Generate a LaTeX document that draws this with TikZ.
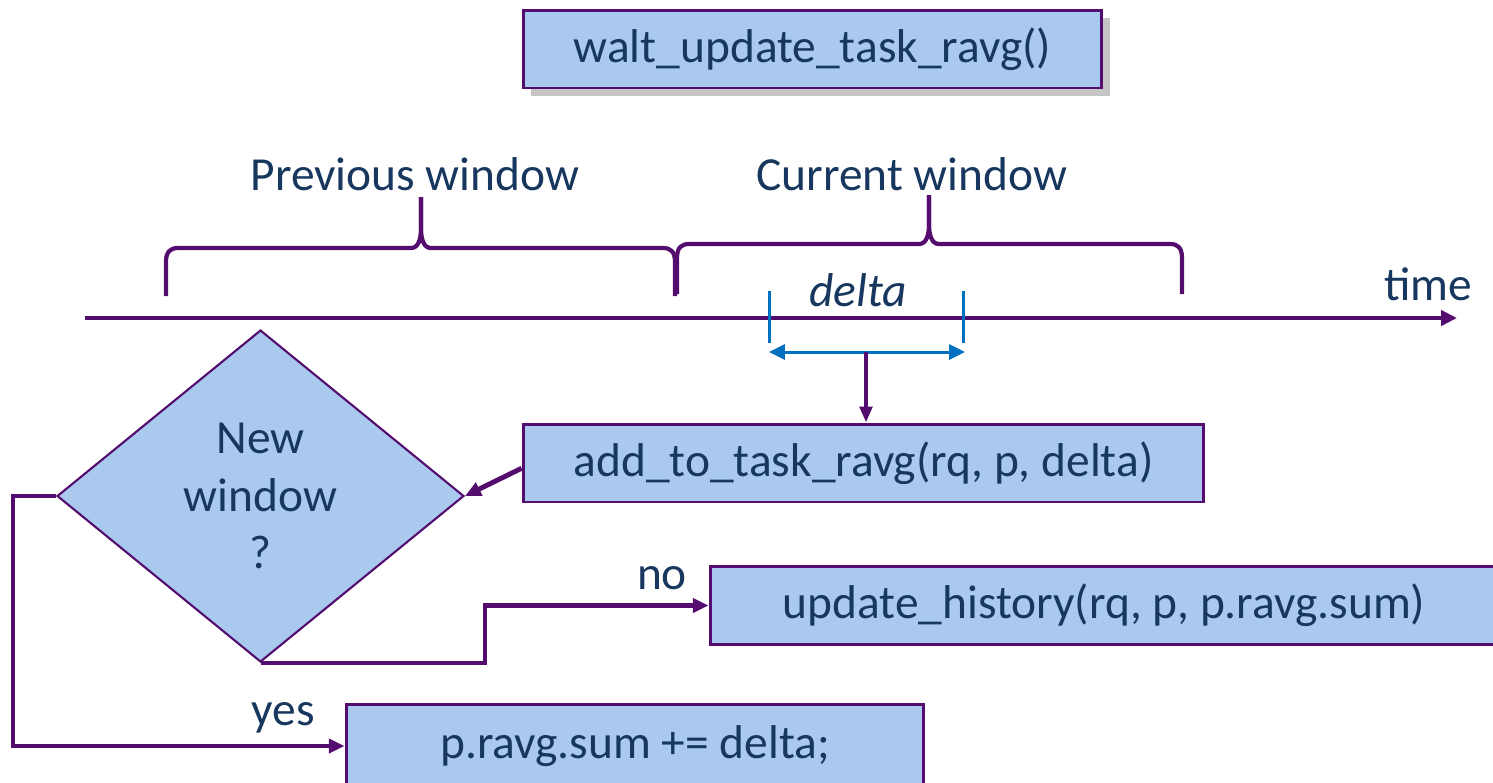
\documentclass[tikz,border=0pt]{standalone}
\usepackage{fontspec}
\setmainfont{Carlito}
\usetikzlibrary{arrows.meta,shapes.geometric,shadows}
\definecolor{boxBlue}{RGB}{169,202,238}
\definecolor{linePurple}{RGB}{84,12,110}
\definecolor{textNavy}{RGB}{23,55,94}
\definecolor{deltaBlue}{RGB}{0,112,192}
\newcommand{\myBrace}[6]{%%
  %% Flat brace: #1 left end, #2 tip, #3 right end,
  %% #4 flat part, #5 top of the tip, #6 foot of the legs.
  \draw[braceStyle] (#1,#6) -- (#1,#4+14)
  .. controls (#1,#4+4) and (#1+4,#4) .. (#1+12,#4)
  -- (#2-10,#4) .. controls (#2-3,#4) and (#2,#4-8) .. (#2,#4-20)
  -- (#2,#5);
  \draw[braceStyle] (#2,#5) -- (#2,#4-20)
  .. controls (#2,#4-8) and (#2+3,#4) .. (#2+10,#4)
  -- (#3-12,#4) .. controls (#3-4,#4) and (#3,#4+4) .. (#3,#4+14)
  -- (#3,#6);
}

\begin{document}
\begin{tikzpicture}[%%
  x=0.02cm,y=-0.02cm,
  textStyle/.style={text=textNavy,font=\fontsize{27}{32.5}\selectfont},
  boxStyle/.style={textStyle,draw=linePurple,line width=1.7pt,fill=boxBlue,
    minimum height=1.56cm,inner sep=0pt},
  decideStyle/.style={textStyle,diamond,draw=linePurple,line width=1.2pt,
    fill=boxBlue,minimum width=8.14cm,minimum height=6.64cm,inner sep=0pt,
    align=center},
  braceStyle/.style={draw=linePurple,line width=2.4pt,line join=round},
  lineStyle/.style={draw=linePurple,line width=2.8pt},
  arrowStyle/.style={lineStyle,-{Triangle[length=9pt,width=8pt]}},
  deltaStyle/.style={draw=deltaBlue,line width=1.7pt}
]
\useasboundingbox (0,0) rectangle (1493,782);
%%
%% The function on top.
\node[boxStyle,minimum width=11.58cm,
  drop shadow={shadow xshift=4.5pt,shadow yshift=-4.5pt,fill=gray!90}]
  (ravgBox) at (812.5,49) {walt\_update\_task\_ravg()};
%%
%% The two windows.
\node[textStyle] (prevLabel) at (415,174) {Previous window};
\node[textStyle] (currLabel) at (912,174) {Current window};
\myBrace{166}{421}{675}{248}{197}{296}
\myBrace{677}{929}{1182}{244}{195}{294}
%%
%% The time axis.
\coordinate (timeStart) at (85,318);
\coordinate (timeEnd) at (1457,318);
\draw[lineStyle,-{Triangle[length=9pt,width=8.5pt]}] (timeStart) -- (timeEnd);
\node[textStyle] (timeLabel) at (1428,284) {time};
%%
%% The interval delta.
\node[textStyle,font=\fontsize{27}{32.5}\selectfont\itshape]
  (deltaLabel) at (858,290) {delta};
\draw[deltaStyle] (769,291) -- (769,343);
\draw[deltaStyle] (963,291) -- (963,343);
\coordinate (deltaLeft) at (769,352);
\coordinate (deltaRight) at (965,352);
\coordinate (deltaMid) at (866,352);
\draw[deltaStyle,{Triangle[length=9pt,width=8.5pt]}-{Triangle[length=9pt,width=8.5pt]}]
  (deltaLeft) -- (deltaRight);
%%
%% The flow chart.
\node[boxStyle,minimum width=13.62cm] (addTo) at (863.5,463)
  {add\_to\_task\_ravg(rq, p, delta)};
\node[decideStyle] (decide) at (260.5,496) {New\\window\\?};
\node[boxStyle,minimum width=15.76cm] (history) at (1104,605.5)
  {update\_history(rq, p, p.ravg.sum)};
\node[boxStyle,minimum width=11.56cm,minimum height=1.68cm] (sumBox) at (635,746)
  {p.ravg.sum += delta;};
\coordinate (noBend) at (485,0);
\coordinate (yesBend) at (13,0);
%%
\draw[lineStyle,-{Triangle[length=9pt,width=7pt]}] (deltaMid) -- (deltaMid |- addTo.north);
\draw[arrowStyle] ([yshift=-3pt]addTo.west) -- (decide.east);
\draw[arrowStyle] (decide.south) -| (noBend |- history.west) -- (history.west);
\draw[arrowStyle] (decide.west) -| (yesBend |- sumBox.west) -- (sumBox.west);
\node[textStyle] (noLabel) at (662,578) {no};
\node[textStyle] (yesLabel) at (283,718) {yes};
\end{tikzpicture}
\end{document}
